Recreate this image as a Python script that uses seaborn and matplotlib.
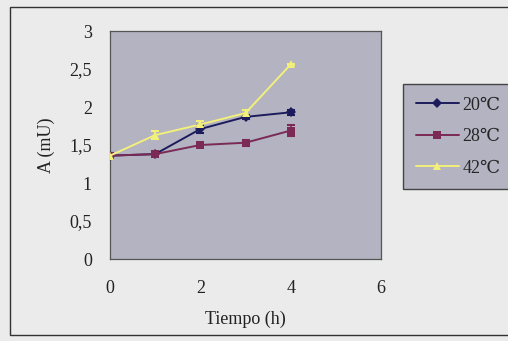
import matplotlib
matplotlib.use("Agg")
import matplotlib.pyplot as plt
import seaborn as sns
import pandas as pd
from matplotlib.patches import Rectangle
from matplotlib.ticker import FuncFormatter

tiempo = [0, 1, 2, 3, 4]
a_20 = [1.36, 1.38, 1.71, 1.87, 1.93]
a_28 = [1.36, 1.38, 1.50, 1.53, 1.69]
a_42 = [1.36, 1.63, 1.77, 1.92, 2.56]
err_20 = [0.03, 0.03, 0.05, 0.03, 0.03]
err_28 = [0.03, 0.03, 0.03, 0.04, 0.07]
err_42 = [0.04, 0.05, 0.04, 0.04, 0.01]
labels = ["20\u2103", "28\u2103", "42\u2103"]
tick_x = [0, 2, 4, 6]
tick_y = [0, 0.5, 1, 1.5, 2, 2.5, 3]

sns.set_theme(style="white")
plt.rcParams["font.family"] = ["Liberation Serif", "DejaVu Serif"]

df = pd.DataFrame({
    "Tiempo": tiempo * 3,
    "A": a_20 + a_28 + a_42,
    "serie": [labels[0]] * 5 + [labels[1]] * 5 + [labels[2]] * 5,
})

fig = plt.figure(figsize=(5.08, 3.41), dpi=100)
fig.patch.set_facecolor("#ebebeb")
fig.patches.append(Rectangle((10 / 508, 1 - 335 / 341), 500 / 508, 328 / 341,
                             transform=fig.transFigure, fill=False,
                             edgecolor="#333333", lw=1.0))
ax = fig.add_axes([110 / 508, 1 - 259 / 341, 271 / 508, 228 / 341])
ax.set_facecolor("#b3b3c2")

palette = {labels[0]: "#1c1c5c", labels[1]: "#7a2a55", labels[2]: "#f2f07a"}
markers = {labels[0]: "D", labels[1]: "s", labels[2]: "^"}
for lab, errs in zip(labels, [err_20, err_28, err_42]):
    sub = df[df["serie"] == lab]
    ax.errorbar(sub["Tiempo"], sub["A"], yerr=errs, fmt="none",
                ecolor=palette[lab], elinewidth=1.2, capsize=3, capthick=1.5, zorder=2)
sns.lineplot(data=df, x="Tiempo", y="A", hue="serie", style="serie",
             palette=palette, markers=markers, dashes=False, markersize=5.5,
             markeredgewidth=0, linewidth=1.4, ax=ax, zorder=3)

ax.set_xlim(0, 6)
ax.set_ylim(0, 3)
ax.set_xticks(tick_x)
ax.set_yticks(tick_y)
ax.yaxis.set_major_formatter(FuncFormatter(lambda v, p: ("%g" % v).replace(".", ",")))
ax.tick_params(axis="both", labelsize=13, colors="#222222", length=3,
               direction="out", pad=10)
ax.tick_params(axis="x", pad=12)
for s in ax.spines.values():
    s.set_color("#555555")
    s.set_linewidth(0.9)
ax.set_xlabel("Tiempo (h)", fontsize=13, color="#222222", labelpad=10)
ax.set_ylabel("A (mU)", fontsize=13, color="#222222", labelpad=10)

h, l = ax.get_legend_handles_labels()
if ax.get_legend():
    ax.get_legend().remove()
leg = fig.legend(h, l, loc="upper left", bbox_to_anchor=(403 / 508, 1 - 84 / 341),
                 frameon=True, fontsize=13, borderpad=0.7, labelspacing=0.8,
                 handlelength=2.4, handletextpad=0.2, fancybox=False, borderaxespad=0)
leg.get_frame().set_facecolor("#b3b3c2")
leg.get_frame().set_edgecolor("#444444")
leg.get_frame().set_alpha(1)

fig.savefig("out.png", dpi=100, facecolor=fig.get_facecolor())
